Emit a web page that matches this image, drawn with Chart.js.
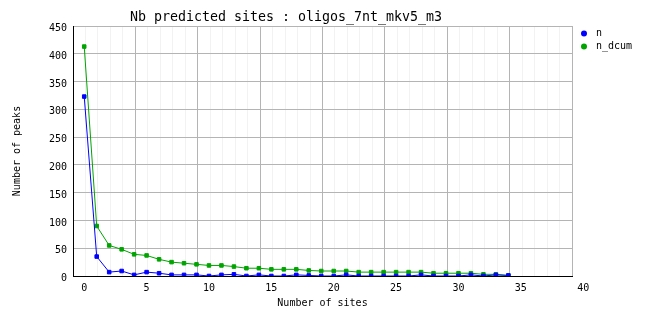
<!DOCTYPE html>
<html>
<head>
<meta charset="utf-8">
<script src="https://cdn.jsdelivr.net/npm/chart.js@4"></script>
<style>
  html, body { margin: 0; padding: 0; background: #fff; }
  #wrap { width: 662px; height: 328px; }
</style>
</head>
<body>
<div id="wrap"><canvas id="chart" width="662" height="328"></canvas></div>
<script>
const TITLE = "Nb predicted sites : oligos_7nt_mkv5_m3";
const X_TITLE = "Number of sites";
const Y_TITLE = "Number of peaks";

// number of sites 0..34
const sites = Array.from({ length: 35 }, (_, i) => i);
const n = [323, 35, 7, 9, 2, 7, 5, 2, 2, 2, 0, 2, 3, 0, 2, 0, 0, 2, 1, 0, 0, 2, 0, 0, 0, 0, 0, 2, 0, 0, 0, 2, 0, 2, 1];
const nDcum = [413, 90, 55, 48, 39, 37, 30, 25, 23, 21, 19, 19, 17, 14, 14, 12, 12, 12, 10, 9, 9, 9, 7, 7, 7, 7, 7, 7, 5, 5, 5, 5, 3, 3, 1];
const xTickLabels = [0, 5, 10, 15, 20, 25, 30, 35, 40];
const yTicks = [0, 50, 100, 150, 200, 250, 300, 350, 400, 450];

const X_MIN = -0.9, X_MAX = 39.1;
const MONO = "'DejaVu Sans Mono', monospace";

function series(label, color, values) {
  return {
    label: label,
    data: sites.map((x, i) => ({ x: x, y: values[i] })),
    borderColor: color,
    backgroundColor: color,
    borderWidth: 1,
    pointStyle: "rect",
    pointRadius: 2.5,
    pointHoverRadius: 2.5,
    tension: 0,
  };
}

// legend drawn at the right, like the original
const sideLegend = {
  id: "sideLegend",
  afterDraw(chart) {
    const ctx = chart.ctx;
    ctx.save();
    ctx.font = "10px " + MONO;
    ctx.textBaseline = "middle";
    chart.data.datasets.forEach((ds, i) => {
      const y = 33.5 + i * 13;
      ctx.fillStyle = ds.borderColor;
      ctx.beginPath();
      ctx.arc(584, y, 3, 0, Math.PI * 2);
      ctx.fill();
      ctx.fillStyle = "#000";
      ctx.fillText(ds.label, 596, y);
    });
    ctx.restore();
  },
};

new Chart(document.getElementById("chart"), {
  type: "line",
  data: {
    datasets: [
      series("n", "#0000ff", n),
      series("n_dcum", "#00a400", nDcum),
    ],
  },
  options: {
    responsive: false,
    animation: false,
    layout: { padding: { left: 0, right: 90, top: 0, bottom: 0 } },
    plugins: {
      legend: { display: false },
      tooltip: { enabled: false },
      title: {
        display: true,
        text: TITLE,
        color: "#000",
        font: { family: MONO, size: 13.3, weight: "normal", lineHeight: 1 },
        padding: { top: 11, bottom: 1.7 },
      },
    },
    scales: {
      x: {
        type: "linear",
        position: "bottom",
        min: X_MIN,
        max: X_MAX,
        afterBuildTicks: (s) => { s.ticks = xTickLabels.map((v) => ({ value: v })); },
        afterFit: (s) => { s.height = 52; },
        grid: { display: false, drawTicks: false },
        border: { display: true, color: "#000", width: 1 },
        ticks: { color: "#000", padding: 6, maxRotation: 0, autoSkip: false, font: { family: MONO, size: 10 } },
        title: {
          display: true,
          text: X_TITLE,
          color: "#000",
          font: { family: MONO, size: 10 },
          padding: { top: 0, bottom: 18.5 },
        },
      },
      xgrid: {
        type: "linear",
        position: "top",
        min: X_MIN,
        max: X_MAX,
        afterBuildTicks: (s) => {
          s.ticks = Array.from({ length: 41 }, (_, k) => ({ value: X_MIN + k }));
        },
        afterFit: (s) => { s.height = 0; },
        grid: {
          drawTicks: false,
          color: (c) => (c.index % 5 === 0 ? "#b4b4b4" : "#f2f2f2"),
        },
        border: { display: false },
        ticks: { display: false },
      },
      y: {
        min: 0,
        max: 450,
        afterBuildTicks: (s) => { s.ticks = yTicks.map((v) => ({ value: v })); },
        afterFit: (s) => { s.width = 73; },
        grid: { drawTicks: false, color: "#b4b4b4" },
        border: { display: true, color: "#000", width: 1 },
        ticks: { color: "#000", padding: 6, labelOffset: 2.5, font: { family: MONO, size: 10 } },
        title: {
          display: true,
          text: Y_TITLE,
          color: "#000",
          font: { family: MONO, size: 10 },
          padding: { top: 11.5, bottom: 0 },
        },
      },
    },
  },
  plugins: [sideLegend],
});
</script>
</body>
</html>
